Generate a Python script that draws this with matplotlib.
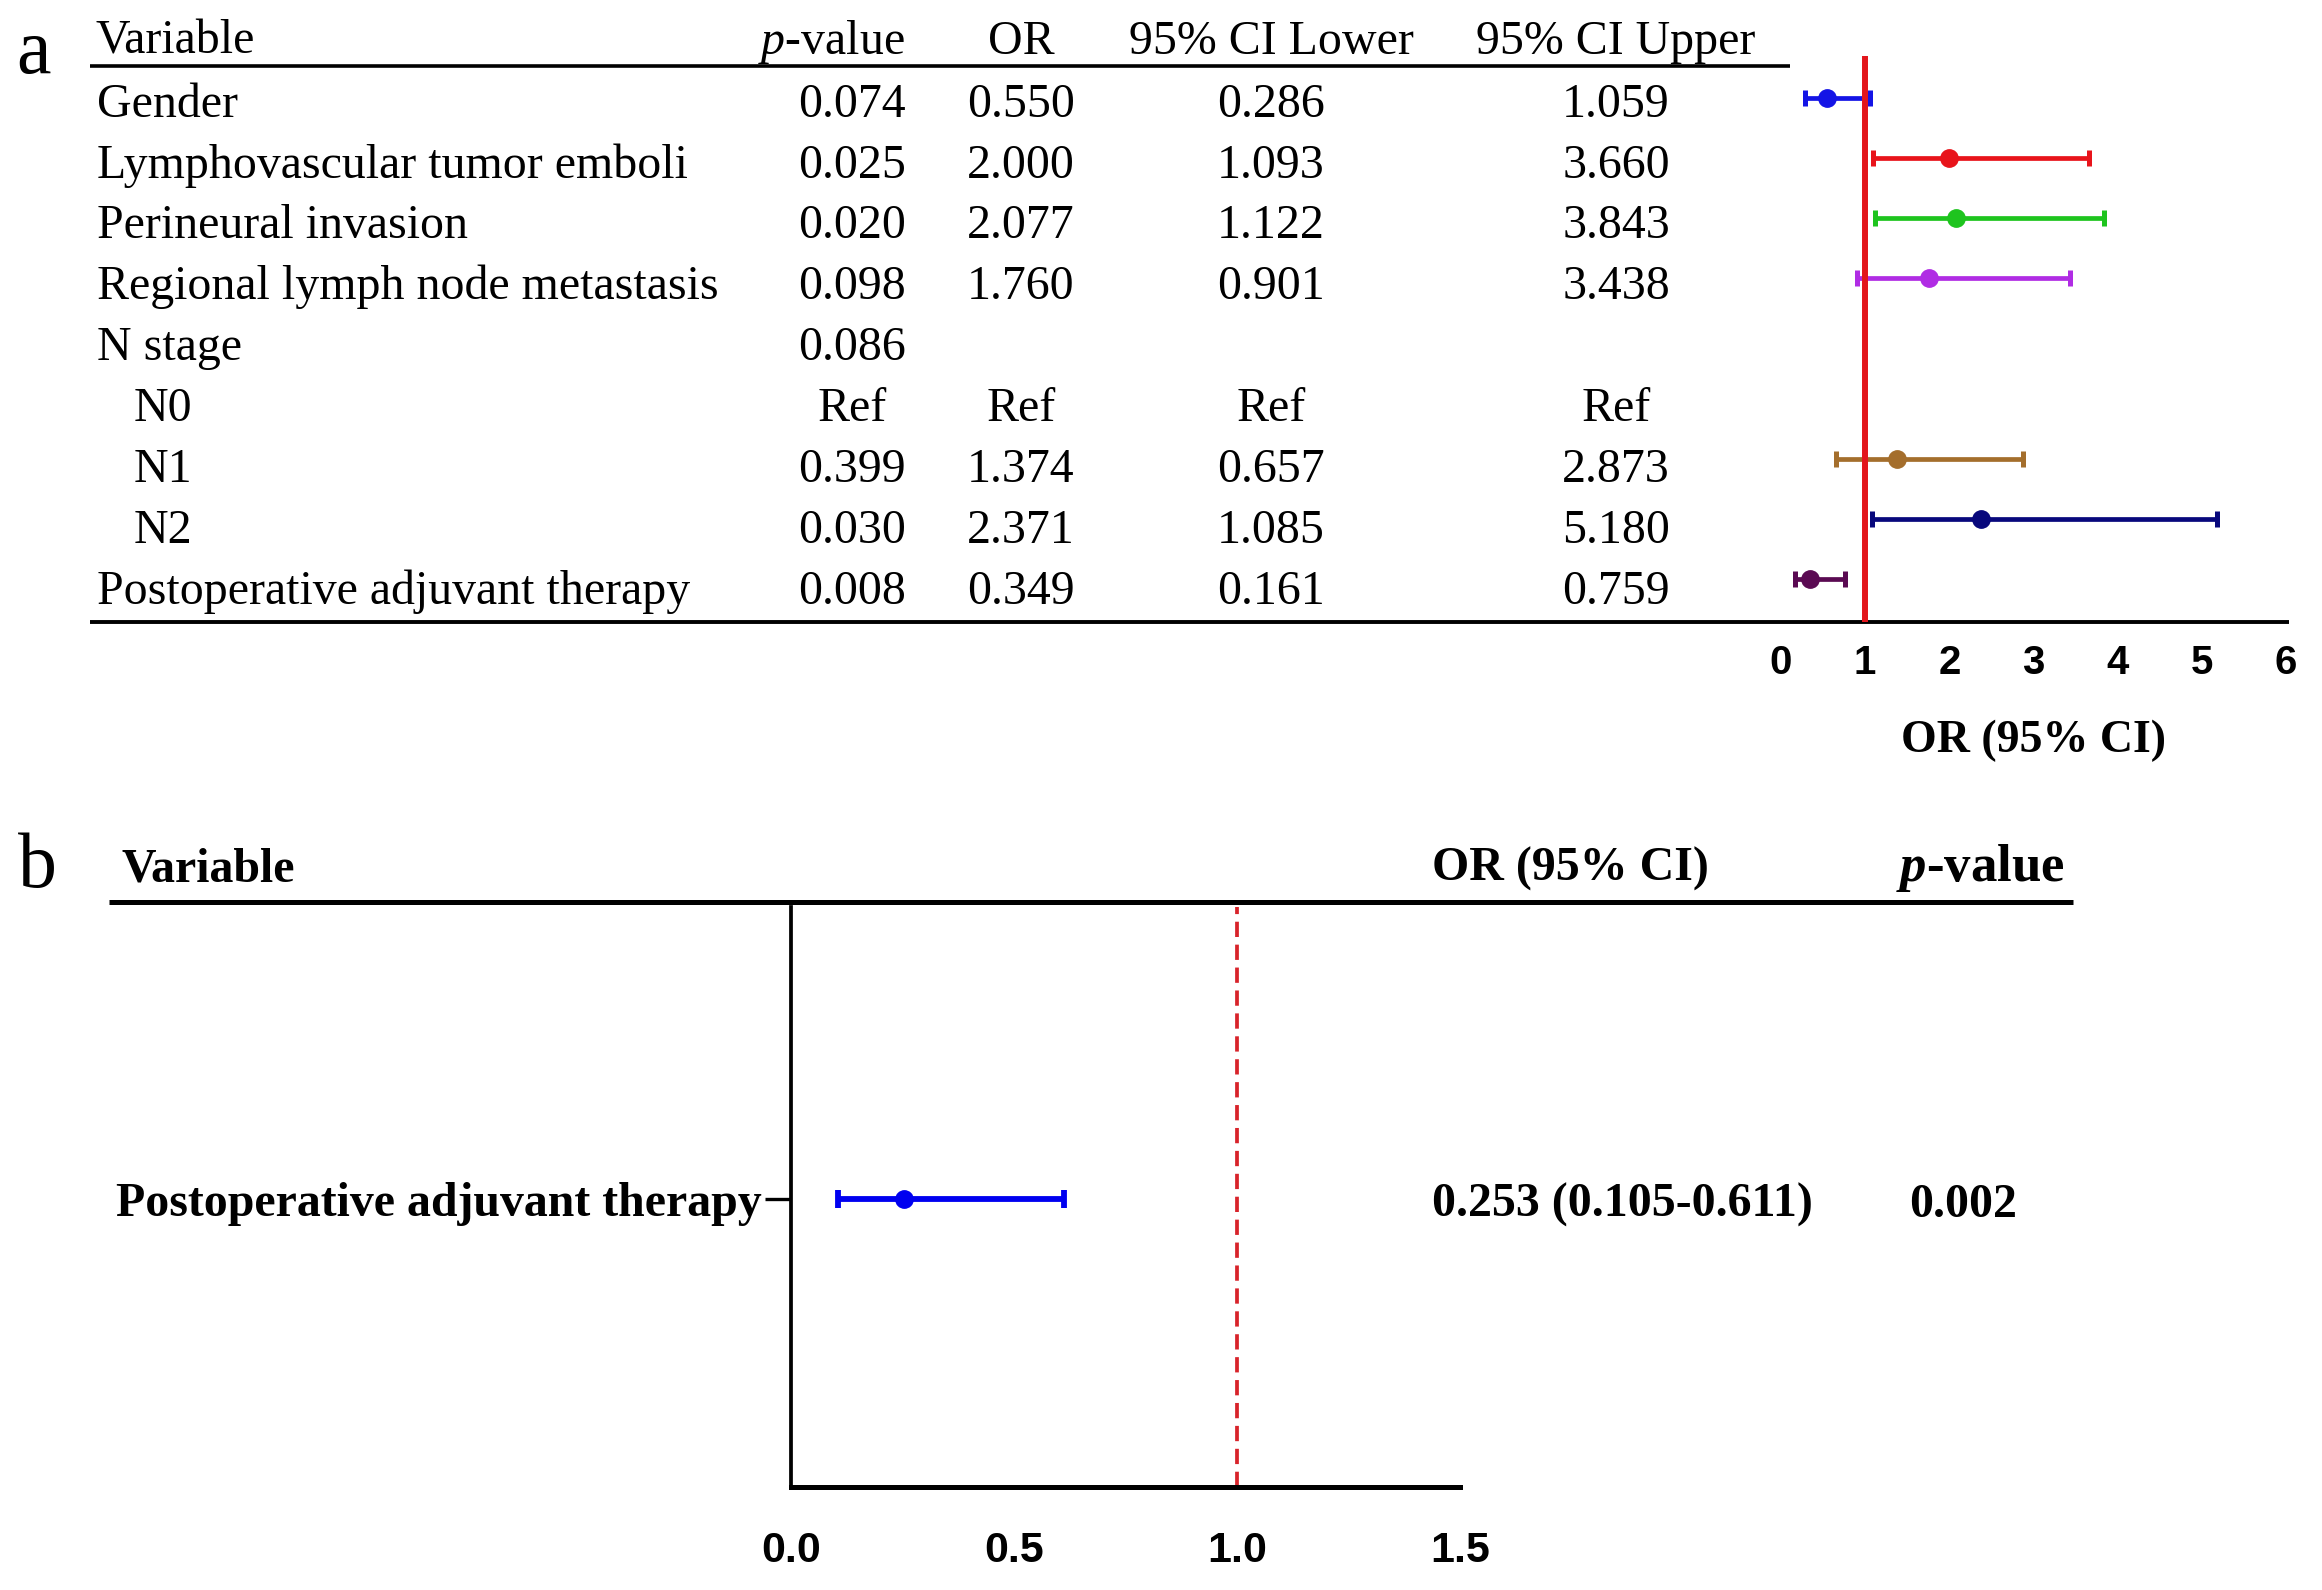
import numpy as np
import matplotlib
matplotlib.use("Agg")
import matplotlib.pyplot as plt
from matplotlib.transforms import blended_transform_factory

# ---------------- data ----------------
variables = ["Gender", "Lymphovascular tumor emboli", "Perineural invasion",
             "Regional lymph node metastasis", "N stage", "N0", "N1", "N2",
             "Postoperative adjuvant therapy"]
indented = [False, False, False, False, False, True, True, True, False]
p_values = ["0.074", "0.025", "0.020", "0.098", "0.086", "Ref", "0.399", "0.030", "0.008"]
ref_rows = ["N0"]
odds_ratio = [0.550, 2.000, 2.077, 1.760, np.nan, np.nan, 1.374, 2.371, 0.349]
ci_lower = [0.286, 1.093, 1.122, 0.901, np.nan, np.nan, 0.657, 1.085, 0.161]
ci_upper = [1.059, 3.660, 3.843, 3.438, np.nan, np.nan, 2.873, 5.180, 0.759]
row_colors = ["#1414E6", "#E8141B", "#1EC41E", "#B02CE4", None, None,
              "#A46E2C", "#08087C", "#5A0A52"]
headers_a = ["Variable", r"$\mathit{p}$-value", "OR", "95% CI Lower", "95% CI Upper"]
xticks_a = [0, 1, 2, 3, 4, 5, 6]

b_variable = "Postoperative adjuvant therapy"
b_or = 0.253
b_lower = 0.105
b_upper = 0.611
b_p = "0.002"
xticks_b = [0.0, 0.5, 1.0, 1.5]

# ---------------- style ----------------
plt.rcParams["font.family"] = "Liberation Serif"
plt.rcParams["mathtext.fontset"] = "custom"
plt.rcParams["mathtext.rm"] = "Liberation Serif"
plt.rcParams["mathtext.it"] = "Liberation Serif:italic"
plt.rcParams["mathtext.bf"] = "Liberation Serif:bold"
try:
    plt.rcParams["mathtext.bfit"] = "Liberation Serif:italic:bold"
    bfit = r"\mathbfit"
except KeyError:
    bfit = r"\mathit"
plt.rcParams["lines.scale_dashes"] = False

W, H = 2322, 1590
fig = plt.figure(figsize=(W / 100, H / 100), dpi=100)


def px_axes(x0, y0, x1, y1):
    ax = fig.add_axes([x0 / W, 1 - y1 / H, (x1 - x0) / W, (y1 - y0) / H])
    ax.set_facecolor("none")
    return ax


ov = fig.add_axes([0, 0, 1, 1])
ov.set_xlim(0, W)
ov.set_ylim(H, 0)
ov.axis("off")

FS = 34.5
sans_bold = dict(family="Liberation Sans", weight="bold")

# ---------------- panel a: table ----------------
def base_a(i):
    return 116.7 + 60.9 * i

ov.text(16, 73, "a", fontsize=56, ha="left", va="baseline")
hy = base_a(-1.03)
ov.text(95, hy, headers_a[0], fontsize=FS, ha="left", va="baseline")
ov.text(905, hy, headers_a[1], fontsize=FS, ha="right", va="baseline")
ov.text(1021, hy, headers_a[2], fontsize=FS, ha="center", va="baseline")
ov.text(1271, hy, headers_a[3], fontsize=FS, ha="center", va="baseline")
ov.text(1616, hy, headers_a[4], fontsize=FS, ha="center", va="baseline")
ov.plot([90, 1790], [66, 66], color="black", lw=2.6, solid_capstyle="butt")
ov.plot([90, 2289], [622, 622], color="black", lw=2.8, solid_capstyle="butt")


def fmt(v, name):
    if name in ref_rows:
        return "Ref"
    if np.isnan(v):
        return ""
    return f"{v:.3f}"


for i, name in enumerate(variables):
    y = base_a(i)
    ov.text(134 if indented[i] else 97, y, name, fontsize=FS, ha="left", va="baseline")
    ov.text(852, y, p_values[i], fontsize=FS, ha="center", va="baseline")
    ov.text(1021, y, fmt(odds_ratio[i], name), fontsize=FS, ha="center", va="baseline")
    ov.text(1271, y, fmt(ci_lower[i], name), fontsize=FS, ha="center", va="baseline")
    ov.text(1616, y, fmt(ci_upper[i], name), fontsize=FS, ha="center", va="baseline")

# ---------------- panel a: forest ----------------
axf = px_axes(1781, 56, 2286, 622)
for s in axf.spines.values():
    s.set_visible(False)
axf.set_xlim(0, 6)
axf.set_ylim(8.72, -0.70)
for i in range(len(variables)):
    if np.isnan(odds_ratio[i]):
        continue
    axf.errorbar(odds_ratio[i], i,
                 xerr=[[odds_ratio[i] - ci_lower[i]], [ci_upper[i] - odds_ratio[i]]],
                 fmt="o", color=row_colors[i], ms=12.5, elinewidth=3.4,
                 capsize=5.8, capthick=3.6, zorder=2)
axf.axvline(1, color="#E3161C", lw=4.3, zorder=3)
axf.set_yticks([])
axf.set_xticks(xticks_a)
axf.set_xticklabels([str(t) for t in xticks_a], fontsize=29, **sans_bold)
axf.tick_params(axis="x", length=0, pad=16)
ov.text(3, 752, "OR (95% CI)", fontsize=33, weight="bold", ha="center", va="baseline",
        transform=blended_transform_factory(axf.transData, ov.transData))

# ---------------- panel b ----------------
ov.text(18, 887, "b", fontsize=56, ha="left", va="baseline")
ov.text(121, 881, "Variable", fontsize=FS, weight="bold", ha="left", va="baseline")
ov.text(1432, 881, "OR (95% CI)", fontsize=FS, weight="bold", ha="left", va="baseline")
ov.text(1896, 881, "$" + bfit + "{p}$-value", fontsize=38, weight="bold",
        ha="left", va="baseline")
ov.plot([109, 2073], [902, 902], color="black", lw=3.6, solid_capstyle="butt")

axb = px_axes(791, 907, 1460, 1487)
axb.spines["top"].set_visible(False)
axb.spines["right"].set_visible(False)
axb.spines["left"].set_linewidth(2.7)
axb.spines["bottom"].set_linewidth(3.6)
axb.set_xlim(0, 1.5)
axb.set_ylim(-0.993, 1.007)
axb.errorbar(b_or, 0, xerr=[[b_or - b_lower], [b_upper - b_or]], fmt="o",
             color="#0000F0", ms=12.5, elinewidth=4.2, capsize=6.5, capthick=4.2)
axb.axvline(1.0, color="#D8232A", lw=2.7, linestyle=(0, (11, 5.5)))
axb.set_yticks([0])
axb.set_yticklabels([b_variable], fontsize=FS, family="Liberation Serif", weight="bold")
axb.tick_params(axis="y", length=18.5, width=2.4, pad=2.5)
axb.set_xticks(xticks_b)
axb.set_xticklabels([f"{t:.1f}" for t in xticks_b], fontsize=31, **sans_bold)
axb.tick_params(axis="x", length=0, pad=32)

ov.text(1432, 1217, f"{b_or:.3f} ({b_lower:.3f}-{b_upper:.3f})", fontsize=FS,
        weight="bold", ha="left", va="baseline")
ov.text(1909, 1217, b_p, fontsize=FS, weight="bold", ha="left", va="baseline")

fig.savefig("out.png", dpi=100)
